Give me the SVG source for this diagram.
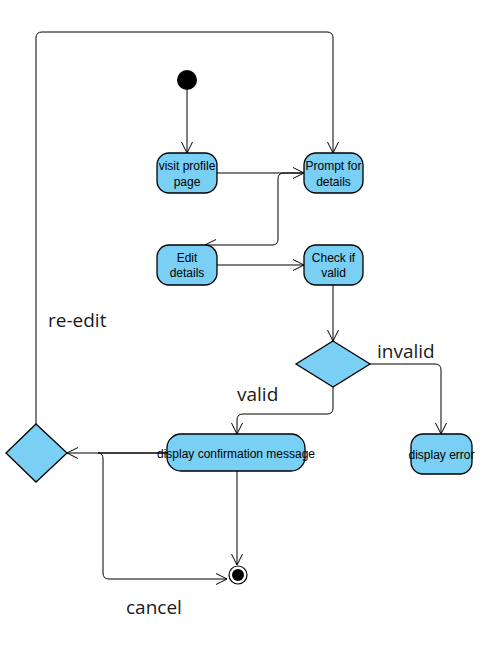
<svg xmlns="http://www.w3.org/2000/svg" width="500" height="651" viewBox="0 0 500 651">
<defs>
<marker id="arr" viewBox="0 0 12 12" refX="11" refY="6" markerWidth="12" markerHeight="12" markerUnits="userSpaceOnUse" orient="auto">
<path d="M0,0.5 L11,6 L0,11.5" fill="none" stroke="#000" stroke-width="1"/>
</marker>
<style>
.n{fill:#7ACFF4;stroke:#000;stroke-width:1.3}
.e{fill:none;stroke:#000;stroke-width:1;marker-end:url(#arr)}
.t{font-family:"Liberation Sans",Arial,sans-serif;font-size:12px;fill:#000;text-anchor:middle}
.l{font-family:"Open Sans","Noto Sans",sans-serif;font-size:19px;fill:#1a1a1a}
</style>
</defs>
<rect width="500" height="651" fill="#fff"/>
<g id="connectors">
<path class="e" d="M187,90 V153"/>
<path class="e" d="M217,173 H304"/>
<path class="e" d="M304,173 H284 Q278,173 278,179 V239 Q278,245 272,245 H205"/>
<path class="e" d="M217,265 H304"/>
<path class="e" d="M333,285 V341"/>
<path class="e" d="M36,424 V38 Q36,32 42,32 H327 Q333,32 333,38 V153"/>
<path class="e" d="M370,364 H435 Q441,364 441,370 V434"/>
<path class="e" d="M333,387 V408 Q333,414 327,414 H243 Q237,414 237,420 V434"/>
<path class="e" d="M167,453 H67"/>
<path class="e" d="M237,471 V565"/>
<path class="e" d="M167,453 H98 Q103,453 103,459 V573 Q103,579 109,579 H227"/>
</g>
<g id="start"><circle cx="187" cy="80" r="10" fill="#000"/></g>
<g id="visit"><rect class="n" x="157" y="153" width="60" height="40" rx="12"/><text class="t" x="187" y="170">visit profile</text><text class="t" x="187" y="186">page</text></g>
<g id="prompt"><rect class="n" x="304" y="153" width="59" height="40" rx="12"/><text class="t" x="333.5" y="170">Prompt for</text><text class="t" x="333.5" y="186">details</text></g>
<g id="edit"><rect class="n" x="157" y="245" width="60" height="40" rx="12"/><text class="t" x="187" y="262">Edit</text><text class="t" x="187" y="277">details</text></g>
<g id="check"><rect class="n" x="304" y="245" width="59" height="40" rx="12"/><text class="t" x="333.5" y="262">Check if</text><text class="t" x="333.5" y="277">valid</text></g>
<g id="decision"><path class="n" d="M333,341 L370,364 L333,387 L296,364 Z"/></g>
<g id="confirm"><rect class="n" x="167" y="434" width="138" height="37" rx="14"/><text class="t" x="236" y="458">display confirmation message</text></g>
<g id="error"><rect class="n" x="411" y="434" width="61" height="40" rx="12"/><text class="t" x="441.5" y="459">display error</text></g>
<g id="decision2"><path class="n" d="M36,424 L67,453 L36,482 L6,453 Z"/></g>
<g id="end"><circle cx="238" cy="575" r="9" fill="#fff" stroke="#000" stroke-width="1.2"/><circle cx="238" cy="575" r="6" fill="#000"/></g>
<g id="labels">
<text class="l" x="377" y="358">invalid</text>
<text class="l" x="237" y="401">valid</text>
<text class="l" x="48" y="327">re-edit</text>
<text class="l" x="126" y="614">cancel</text>
</g>
</svg>
